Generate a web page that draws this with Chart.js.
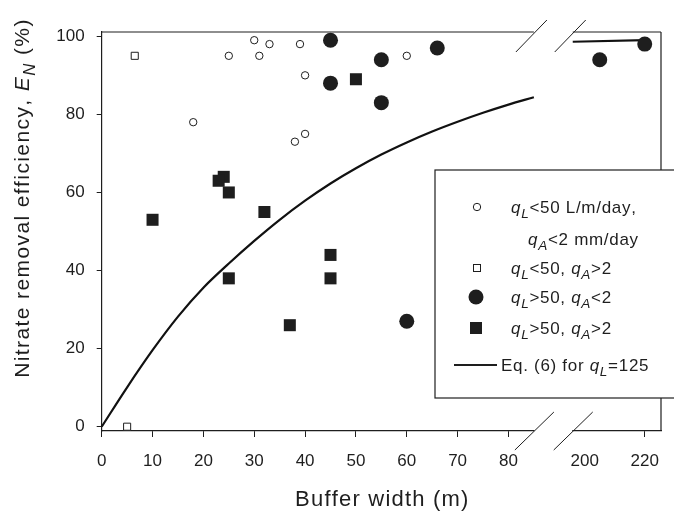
<!DOCTYPE html>
<html>
<head>
<meta charset="utf-8">
<script src="https://cdn.jsdelivr.net/npm/chart.js@4.4.1/dist/chart.umd.min.js"></script>
<style>
  html, body { margin: 0; padding: 0; background: #fff; }
</style>
</head>
<body>
<canvas id="chart" width="674" height="525"></canvas>
<script>
// buffer width (m) / removal efficiency (%)
const lowLowX = [30, 33, 39, 25, 31, 60, 40, 18, 40, 38];
const lowLowY = [99, 98, 98, 95, 95, 95, 90, 78, 75, 73];
const lowHighX = [6.5, 5];
const lowHighY = [95, 0];
const highLowX = [45, 55, 45, 55, 66, 60, 205, 220];
const highLowY = [99, 94, 88, 83, 97, 27, 94, 98];
const highHighX = [50, 24, 23, 25, 32, 10, 45, 25, 45, 37];
const highHighY = [89, 64, 63, 60, 55, 53, 44, 38, 38, 26];

// Eq. (6) for qL=125, read every 5 m up to the break
const eqX = [0, 5, 10, 15, 20, 25, 30, 35, 40, 45, 50, 55, 60, 65, 70, 75, 80, 85];
const eqY = [0, 10.1, 19.6, 28.2, 35.6, 41.8, 47.6, 53.0, 57.9, 62.3, 66.2, 69.7, 72.8, 75.6, 78.1, 80.4, 82.5, 84.4];
const eqFarX = [196, 220];
const eqFarY = [98.6, 99];

const xTicks = [0, 10, 20, 30, 40, 50, 60, 70, 80, 200, 220];
const yTicks = [0, 20, 40, 60, 80, 100];

// broken x axis: 0..85 as is, 196..225 squeezed in after a gap
const breakLo = 85, breakHi = 196;
const toAxis = x => (x <= 100 ? x : 95 + (x - 200) * 0.59);

const FONT = "'Liberation Sans', Arial, sans-serif";
const INK = '#1e1e1e';

const pts = (xs, ys) => xs.map((x, i) => ({ x: toAxis(x), y: ys[i] }));

// letter-spaced text, one glyph at a time (canvas letterSpacing isn't reliable)
function spaced(ctx, t, x, y, sp) {
  for (const ch of t) {
    ctx.fillText(ch, x, y);
    x += ctx.measureText(ch).width + sp;
  }
  return x;
}
function spacedWidth(ctx, t, sp) {
  let w = 0;
  for (const ch of t) w += ctx.measureText(ch).width + sp;
  return w;
}

// parts: [text, italic, sub]
function rich(ctx, x, y, parts, size, sp, center) {
  ctx.textBaseline = 'alphabetic';
  ctx.textAlign = 'left';
  const setFont = (it, sub) => {
    ctx.font = (it ? 'italic ' : '') + (sub ? size * 0.8 : size) + 'px ' + FONT;
  };
  if (center) {
    let w = 0;
    parts.forEach(([t, it, sub]) => { setFont(it, sub); w += spacedWidth(ctx, t, sp); });
    x -= w / 2;
  }
  parts.forEach(([t, it, sub]) => {
    setFont(it, sub);
    x = spaced(ctx, t, x, y + (sub ? size * 0.3 : 0), sp);
  });
}

const frame = {
  id: 'frame',
  afterDraw(chart) {
    const ctx = chart.ctx;
    const { left, right, top, bottom } = chart.chartArea;
    const xs = chart.scales.x;
    const bLo = xs.getPixelForValue(toAxis(breakLo));
    const bHi = xs.getPixelForValue(toAxis(breakHi));
    ctx.save();
    // gap in the bottom axis
    ctx.fillStyle = '#fff';
    ctx.fillRect(bLo + 0.5, bottom - 2, bHi - bLo - 1, 4);
    ctx.strokeStyle = INK;
    ctx.lineWidth = 1.2;
    ctx.beginPath();
    ctx.moveTo(left, top); ctx.lineTo(bLo, top);
    ctx.moveTo(bHi, top); ctx.lineTo(right, top);
    ctx.moveTo(right, top); ctx.lineTo(right, bottom);
    ctx.stroke();
    // break slashes
    ctx.lineWidth = 1;
    ctx.beginPath();
    [bLo, bHi].forEach(b => {
      ctx.moveTo(b - 18, top + 20); ctx.lineTo(b + 13, top - 12);
      ctx.moveTo(b - 19, bottom + 19); ctx.lineTo(b + 20, bottom - 19);
    });
    ctx.stroke();

    // legend box
    ctx.fillStyle = '#fff';
    ctx.fillRect(435, 170, 260, 228);
    ctx.lineWidth = 1.2;
    ctx.strokeRect(435, 170, 260, 228);
    ctx.fillStyle = INK;
    const tx = 509, fs = 17, sp = 0.7;
    const rows = [207, 239, 268, 297, 328, 365];
    ctx.lineWidth = 1;
    ctx.beginPath(); ctx.arc(477, rows[0], 3.7, 0, Math.PI * 2); ctx.stroke();
    ctx.strokeRect(473.5, rows[2] - 3.5, 7, 7);
    ctx.beginPath(); ctx.arc(476, rows[3], 7.5, 0, Math.PI * 2); ctx.fill();
    ctx.fillRect(470, rows[4] - 6, 12, 12);
    ctx.lineWidth = 2;
    ctx.beginPath(); ctx.moveTo(454, rows[5]); ctx.lineTo(497, rows[5]); ctx.stroke();
    const d = 6;
    rich(ctx, tx + 2, rows[0] + d, [['q', 1], ['L', 1, 1], ['<50 L/m/day,']], fs, sp);
    rich(ctx, tx + 19, rows[1] + d, [['q', 1], ['A', 1, 1], ['<2 mm/day']], fs, sp);
    rich(ctx, tx + 2, rows[2] + d, [['q', 1], ['L', 1, 1], ['<50, '], ['q', 1], ['A', 1, 1], ['>2']], fs, sp);
    rich(ctx, tx + 2, rows[3] + d, [['q', 1], ['L', 1, 1], ['>50, '], ['q', 1], ['A', 1, 1], ['<2']], fs, sp);
    rich(ctx, tx + 2, rows[4] + d, [['q', 1], ['L', 1, 1], ['>50, '], ['q', 1], ['A', 1, 1], ['>2']], fs, sp);
    rich(ctx, tx - 8, rows[5] + d, [['Eq. (6) for '], ['q', 1], ['L', 1, 1], ['=125']], fs, sp);

    // axis titles
    rich(ctx, (left + right) / 2 + 1, 506, [['Buffer width (m)']], 22, 1.2, true);

    ctx.translate(29, 198);
    ctx.rotate(-Math.PI / 2);
    rich(ctx, 0, 0, [['Nitrate removal efficiency, '], ['E', 1], ['N', 1, 1], [' (%)']], 21, 1.4, true);
    ctx.restore();
  }
};

const common = { showLine: false, clip: false };

new Chart(document.getElementById('chart'), {
  type: 'scatter',
  data: {
    datasets: [
      { ...common, data: pts(lowLowX, lowLowY), pointStyle: 'circle', pointRadius: 3.7,
        borderColor: INK, backgroundColor: '#fff', pointBorderWidth: 1 },
      { ...common, data: pts(lowHighX, lowHighY), pointStyle: 'rect', pointRadius: 5,
        borderColor: INK, backgroundColor: '#fff', pointBorderWidth: 1 },
      { ...common, data: pts(highLowX, highLowY), pointStyle: 'circle', pointRadius: 7.5,
        borderColor: INK, backgroundColor: INK, pointBorderWidth: 0 },
      { ...common, data: pts(highHighX, highHighY), pointStyle: 'rect', pointRadius: 8.5,
        borderColor: INK, backgroundColor: INK, pointBorderWidth: 0 },
      { type: 'line', data: pts(eqX, eqY), showLine: true, pointRadius: 0, borderColor: '#111',
        borderWidth: 2.2, cubicInterpolationMode: 'monotone', fill: false, clip: false },
      { type: 'line', data: pts(eqFarX, eqFarY), showLine: true, pointRadius: 0, borderColor: '#111',
        borderWidth: 2.2, fill: false, clip: false }
    ]
  },
  options: {
    responsive: false,
    devicePixelRatio: 1,
    animation: false,
    events: [],
    layout: { padding: { top: 32, right: 13, left: 0, bottom: 0 } },
    plugins: { legend: { display: false }, tooltip: { enabled: false } },
    scales: {
      x: {
        type: 'linear',
        min: 0,
        max: 110,
        afterFit: s => { s.height = 94; },
        afterBuildTicks: s => { s.ticks = xTicks.map(v => ({ value: toAxis(v) })); },
        border: { display: true, color: INK, width: 1.2 },
        grid: {
          drawOnChartArea: false, drawTicks: true, tickLength: 6,
          tickColor: c => (c.tick && c.tick.value === toAxis(200) ? 'rgba(0,0,0,0)' : INK)
        },
        ticks: {
          autoSkip: false, maxRotation: 0, padding: 14, color: INK,
          font: { family: FONT, size: 17 },
          callback: (v, i) => String(xTicks[i])
        }
      },
      y: {
        min: -1.1,
        max: 101.1,
        afterFit: s => { s.width = 101.7; },
        afterBuildTicks: s => { s.ticks = yTicks.map(v => ({ value: v })); },
        border: { display: true, color: INK, width: 1.2 },
        grid: { drawOnChartArea: false, drawTicks: true, tickLength: 5, tickColor: INK },
        ticks: {
          padding: 12, color: INK,
          font: { family: FONT, size: 17 },
          callback: v => String(v)
        }
      }
    }
  },
  plugins: [frame]
});
</script>
</body>
</html>
